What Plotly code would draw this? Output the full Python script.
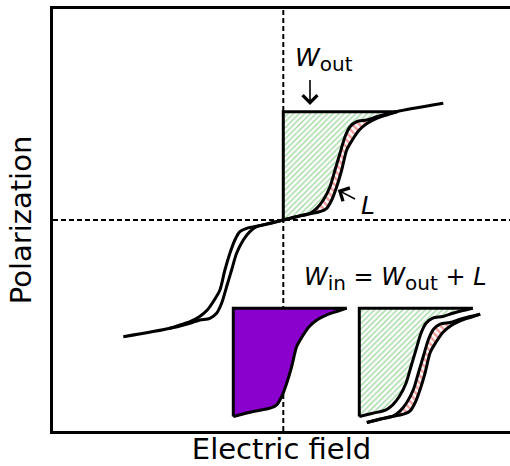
import plotly.graph_objects as go

# ---------------- data (arbitrary units: field E, polarization P) ----------------
# right-hand (positive field) branches of the double hysteresis loop
outer_E = [0.0, 2.0, 3.67, 4.34, 4.84, 5.34, 5.84, 6.34, 6.9, 7.6, 8.4, 9.34, 10.34, 11.34]
outer_P = [0.0, 0.5, 0.83, 1.17, 2.0, 3.33, 5.0, 7.0, 8.0, 9.0, 9.67, 10.17, 10.5, 10.83]
inner_E = [0.0, 1.34, 2.67, 3.34, 4.0, 4.67, 5.17, 5.67, 6.17, 6.67, 7.34, 8.34, 9.34, 10.34, 11.34]
inner_P = [0.0, 0.33, 0.67, 1.17, 2.0, 3.33, 5.0, 6.67, 8.33, 9.33, 9.83, 10.0, 10.33, 10.6, 10.83]
tail_E = [11.34, 16.0]
tail_P = [10.83, 11.67]
# left-hand (negative field) branches
left_outer_E = [0.0, -2.0, -3.67, -4.34, -4.84, -5.34, -5.84, -6.34, -6.9, -7.6, -8.4, -9.34, -10.34, -11.34, -16.0]
left_outer_P = [0.0, -0.5, -0.83, -1.17, -2.0, -3.33, -5.0, -7.0, -8.0, -9.0, -9.67, -10.17, -10.5, -10.83, -11.67]
left_inner_E = [0.0, -1.34, -2.67, -3.34, -4.0, -4.67, -5.17, -5.67, -6.17, -6.67, -7.34, -8.34, -9.34, -10.34, -11.34]
left_inner_P = [0.0, -0.33, -0.67, -1.17, -2.0, -3.33, -5.0, -6.67, -8.33, -9.33, -9.83, -10.0, -10.33, -10.6, -10.83]

# ---------------- layout constants ----------------
E_RANGE = [-23.03, 22.67]
P_RANGE = [-21.1, 21.1]
PURPLE_SHIFT = (-5.0, -19.65)
GREEN_SHIFT = (7.6, -19.65)
LOSS_SHIFT = (8.35, -20.25)

GREEN = "#44b044"
RED = "#e83c3c"
PURPLE = "#8a00cc"
LW = 3

fig = go.Figure()


def shifted(xs, ys, d):
    return [x + d[0] for x in xs], [y + d[1] for y in ys]


def fill_poly(xs, ys, **kw):
    fig.add_trace(go.Scatter(x=xs, y=ys, mode="lines", fill="toself",
                             line=dict(width=0, color="rgba(0,0,0,0)"),
                             hoverinfo="skip", **kw))


def line(xs, ys, spline=True, width=LW):
    fig.add_trace(go.Scatter(x=xs, y=ys, mode="lines",
                             line=dict(color="black", width=width,
                                       shape="spline" if spline else "linear",
                                       smoothing=0.8),
                             hoverinfo="skip"))


green_pat = dict(shape="/", fgcolor=GREEN, bgcolor="white", size=4, solidity=0.35)
red_pat = dict(shape="\\", fgcolor=RED, bgcolor="white", size=5, solidity=0.5)

ptop = inner_P[-1]
ejoin = inner_E[-1]

# ---- main loop: W_out (green) and L (red) ----
fill_poly(inner_E + [0.0], inner_P + [ptop], fillpattern=green_pat, fillcolor="white")
fill_poly(outer_E + inner_E[::-1], outer_P + inner_P[::-1], fillpattern=red_pat, fillcolor="white")
line([0.0, 0.0, ejoin], [0.0, ptop, ptop], spline=False)
line(outer_E + tail_E[1:], outer_P + tail_P[1:])
line(inner_E, inner_P)
line(left_outer_E, left_outer_P)
line(left_inner_E, left_inner_P)

# ---- inset 1: W_in (purple) ----
px, py = shifted(outer_E + [0.0], outer_P + [ptop], PURPLE_SHIFT)
fill_poly(px, py, fillcolor=PURPLE)
bx, by = shifted([0.0, 0.0, ejoin], [0.0, ptop, ptop], PURPLE_SHIFT)
line(bx, by, spline=False)
cx, cy = shifted(outer_E, outer_P, PURPLE_SHIFT)
line(cx, cy)

# ---- inset 2: W_out + L ----
gx, gy = shifted(inner_E + [0.0], inner_P + [ptop], GREEN_SHIFT)
fill_poly(gx, gy, fillpattern=green_pat, fillcolor="white")
bx, by = shifted([0.0, 0.0, ejoin], [0.0, ptop, ptop], GREEN_SHIFT)
line(bx, by, spline=False)
cx, cy = shifted(inner_E, inner_P, GREEN_SHIFT)
line(cx, cy)

rx, ry = shifted(outer_E + inner_E[::-1], outer_P + inner_P[::-1], LOSS_SHIFT)
fill_poly(rx, ry, fillpattern=red_pat, fillcolor="white")
cx, cy = shifted(outer_E, outer_P, LOSS_SHIFT)
line(cx, cy)
cx, cy = shifted(inner_E, inner_P, LOSS_SHIFT)
line(cx, cy)

# ---- dashed axes through origin ----
dash = dict(color="black", width=2, dash="5px,3px")
fig.add_shape(type="line", xref="x", yref="paper", x0=0, x1=0, y0=0, y1=1, line=dash, layer="below")
fig.add_shape(type="line", xref="paper", yref="y", x0=0, x1=1, y0=0, y1=0, line=dash, layer="below")

FONT = "DejaVu Sans"
SUB = '<sub><span style="font-size:20px">%s</span></sub>'

# ---- labels and arrows ----
fig.add_annotation(x=0.97, y=16.1, xref="x", yref="y", xanchor="left", yanchor="middle",
                   text="<i>W</i>" + SUB % "out", showarrow=False,
                   font=dict(family=FONT, size=25, color="black"))
fig.add_annotation(x=2.67, y=11.5, ax=2.67, ay=14.3, xref="x", yref="y", axref="x", ayref="y",
                   text=" ", showarrow=True, arrowhead=4, arrowsize=1.8, arrowwidth=1.6,
                   arrowcolor="black", font=dict(size=2))
fig.add_annotation(x=7.6, y=1.5, xref="x", yref="y", xanchor="left", yanchor="middle",
                   text="<i>L</i>", showarrow=False,
                   font=dict(family=FONT, size=25, color="black"))
fig.add_annotation(x=5.45, y=3.0, ax=7.37, ay=2.0, xref="x", yref="y", axref="x", ayref="y",
                   text=" ", showarrow=True, arrowhead=4, arrowsize=1.8, arrowwidth=1.6,
                   arrowcolor="black", font=dict(size=2))
fig.add_annotation(x=1.85, y=-5.9, xref="x", yref="y", xanchor="left", yanchor="middle",
                   text="<i>W</i>" + SUB % "in" + " = <i>W</i>" + SUB % "out" + " + <i>L</i>",
                   showarrow=False, font=dict(family=FONT, size=24, color="black"))

axis_common = dict(showgrid=False, zeroline=False, showticklabels=False, ticks="",
                   showline=True, linecolor="black", linewidth=2.5, automargin=False)
fig.update_layout(
    width=510, height=466,
    margin=dict(l=53, r=0, t=9, b=35, autoexpand=False),
    paper_bgcolor="white", plot_bgcolor="white",
    showlegend=False,
    xaxis=dict(range=E_RANGE, mirror=True,
               title=dict(text="Electric field", standoff=7,
                          font=dict(family=FONT, size=29, color="black")),
               **axis_common),
    yaxis=dict(range=P_RANGE, mirror=False,
               title=dict(text="Polarization", standoff=11,
                          font=dict(family=FONT, size=29, color="black")),
               **axis_common),
)

# remove the default page margin so the 510x466 figure fills the window exactly
fig.write_html("out.html",
               config={"displayModeBar": False},
               post_script="document.body.style.margin='0px';"
                           "document.documentElement.style.overflow='hidden';")
